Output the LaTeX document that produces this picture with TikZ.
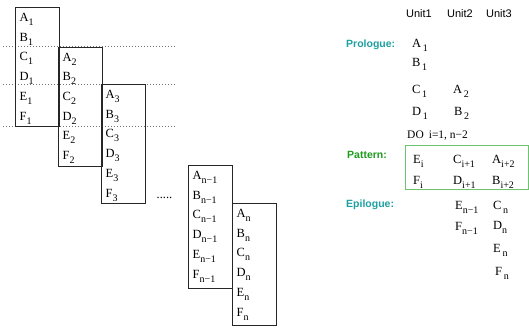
\documentclass[tikz,border=0pt]{standalone}
\usepackage{fontspec}
\setmainfont{Liberation Serif}
\setsansfont{Liberation Sans}
\usetikzlibrary{positioning}

\definecolor{phaseteal}{RGB}{30,160,160}
\definecolor{phasegreen}{RGB}{30,155,30}
\definecolor{patframe}{RGB}{110,195,110}

% operation with its iteration index
\newcommand{\op}[2]{#1\raisebox{-0.32em}{\fontsize{10}{10}\selectfont #2}}

\begin{document}
\begin{tikzpicture}[
      x=1pt, y=-1pt,
      every node/.style={inner sep=0pt},
      stagebox/.style={draw=black!85, line width=1.2pt, anchor=north west, minimum width=43.5pt},
      entry/.style={anchor=base west, font=\fontsize{12.5}{14}\selectfont},
      unit/.style={anchor=base, font=\sffamily\fontsize{11}{13}\selectfont},
      phase/.style={anchor=base west, font=\sffamily\bfseries\fontsize{10.5}{12}\selectfont},
      sepline/.style={draw=black!55, line width=0.7pt, dash pattern=on 1pt off 2pt}
    ]
    \useasboundingbox (0,0) rectangle (529,327);

    % dotted stage separators
    \foreach \y in {46.5, 84, 126}
      \draw[sepline] (3,\y) -- (176,\y);

    % iterations, one box each
    \foreach \nm/\x/\y/\h/\s in {it1/15/7/119/1, it2/58/46.5/119/2, it3/101/84/119/3,
                                  itm/188/165/123/n−1, itn/232/203/122/n} {
      \node[stagebox, minimum height=\h] (\nm) at (\x,\y) {};
      \foreach \l [count=\r] in {A,B,C,D,E,F}
        \node[entry] (\nm\l) at ([xshift=4.5pt, yshift=-14.5pt-(\r-1)*19.7pt]\nm.north west) {\op{\l}{\s}};
    }
    \node[entry] (gap) at (156.5,198) {.....};

    % unit headers
    \node[unit] (u1) at (419,17) {Unit1};
    \node[unit] (u2) at (460,17) {Unit2};
    \node[unit] (u3) at (499,17) {Unit3};

    % phase labels
    \node[phase, text=phaseteal] (prol) at (346,47) {Prologue:};
    \node[phase, text=phasegreen] (patt) at (347,158) {Pattern:};
    \node[phase, text=phaseteal] (epil) at (346,207) {Epilogue:};

    % prologue
    \node[entry] (pa1) at (412,47) {\op{A}{\,1}};
    \node[entry] (pb1) at (412,66) {\op{B}{\,1}};
    \node[entry] (pc1) at (412,93) {\op{C}{\,1}};
    \node[entry] (pd1) at (412,115) {\op{D}{\,1}};
    \node[entry] (pa2) at (453,93) {\op{A}{\,2}};
    \node[entry] (pb2) at (454,115) {\op{B}{\,2}};
    \node[entry, font=\fontsize{11.5}{13}\selectfont] (loop) at (407,138) {DO\hspace{5pt}i=1, n−2};

    % kernel
    \node[draw=patframe, line width=1.3pt, anchor=north west, minimum width=123pt, minimum height=44pt] (kern) at (404.5,145) {};
    \node[entry] (ke) at (413,163) {\op{E}{i}};
    \node[entry] (kf) at (413,184) {\op{F}{i}};
    \node[entry] (kc) at (453,163) {\op{C}{i+1}};
    \node[entry] (kd) at (453,184) {\op{D}{i+1}};
    \node[entry] (ka) at (492,163) {\op{A}{i+2}};
    \node[entry] (kb) at (492,184) {\op{B}{i+2}};

    % epilogue
    \node[entry] (ee) at (455,209) {\op{E}{n−1}};
    \node[entry] (ef) at (455,230) {\op{F}{n−1}};
    \node[entry] (ec) at (493,209) {\op{C}{\,n}};
    \node[entry] (ed) at (493,229) {\op{D}{n}};
    \node[entry] (een) at (493,252) {\op{E}{\,n}};
    \node[entry] (efn) at (495,275) {\op{F}{\,n}};
\end{tikzpicture}
\end{document}
